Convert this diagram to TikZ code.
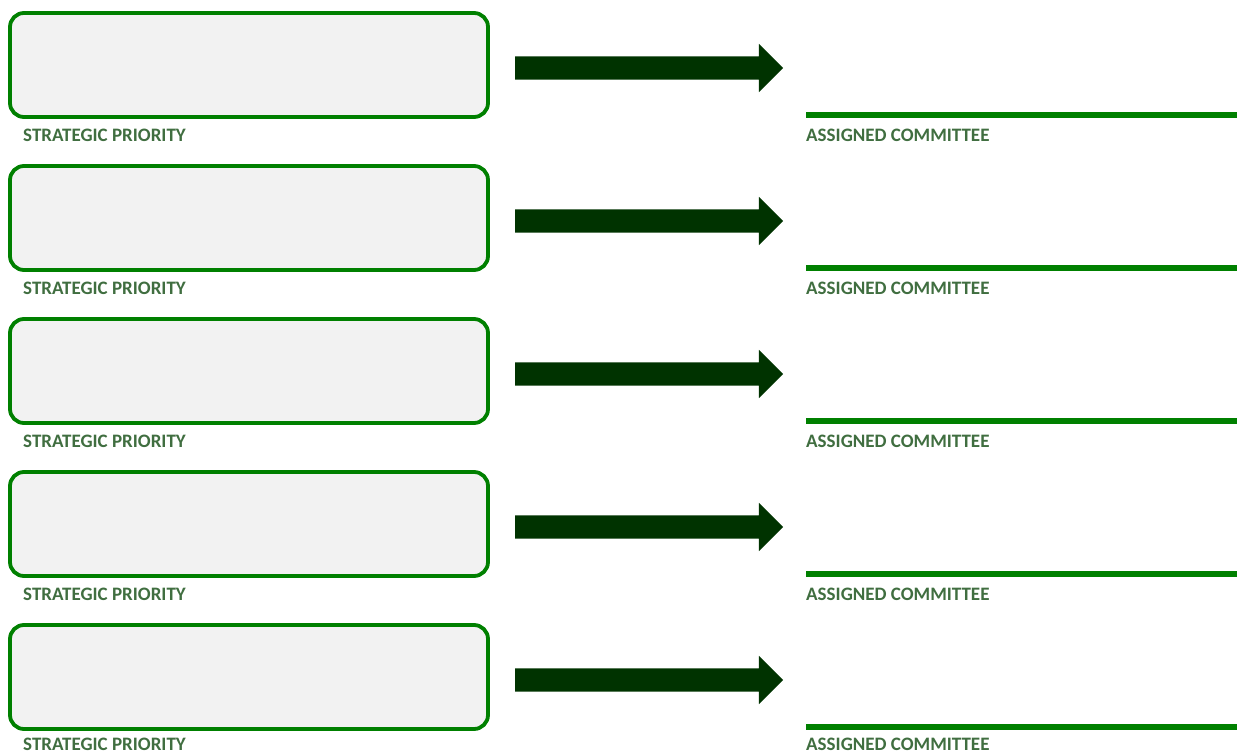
\documentclass[tikz,border=0pt]{standalone}
\usepackage{fontspec}
\setmainfont{Carlito}
\usetikzlibrary{shapes.arrows}
\definecolor{boxgreen}{RGB}{0,128,0}
\definecolor{boxfill}{RGB}{242,242,242}
\definecolor{arrowgreen}{RGB}{0,51,0}
\definecolor{labelgreen}{RGB}{64,110,64}
\tikzset{
  prioritybox/.style={draw=boxgreen, fill=boxfill, line width=3.8pt, rounded corners=14pt,
    minimum width=478pt, minimum height=104pt, inner sep=0pt},
  bigarrow/.style={single arrow, fill=arrowgreen, anchor=west, inner xsep=0pt, inner ysep=11.5pt,
    outer sep=0pt, minimum height=268pt, single arrow head extend=12.5pt, single arrow head indent=0pt},
  rowlabel/.style={anchor=west, inner sep=0pt, text=labelgreen, font=\bfseries\fontsize{19}{22}\selectfont},
  committeeline/.style={draw=boxgreen, line width=6pt}
}
\begin{document}
\begin{tikzpicture}[x=1pt, y=-1pt]
\useasboundingbox (0,0) rectangle (1237,754);
% row 1
\node[prioritybox] (prio1) at (249,65){};
\node[rowlabel] (plab1) at (23,135){STRATEGIC PRIORITY};
\node[bigarrow] (arr1) at (515,68){};
\coordinate (cl1a) at (806,115);
\coordinate (cl1b) at (1237,115);
\draw[committeeline] (cl1a) -- (cl1b);
\node[rowlabel] (clab1) at (806,135){ASSIGNED COMMITTEE};
% row 2
\node[prioritybox] (prio2) at (249,218){};
\node[rowlabel] (plab2) at (23,288){STRATEGIC PRIORITY};
\node[bigarrow] (arr2) at (515,221){};
\coordinate (cl2a) at (806,268);
\coordinate (cl2b) at (1237,268);
\draw[committeeline] (cl2a) -- (cl2b);
\node[rowlabel] (clab2) at (806,288){ASSIGNED COMMITTEE};
% row 3
\node[prioritybox] (prio3) at (249,371){};
\node[rowlabel] (plab3) at (23,441){STRATEGIC PRIORITY};
\node[bigarrow] (arr3) at (515,374){};
\coordinate (cl3a) at (806,421);
\coordinate (cl3b) at (1237,421);
\draw[committeeline] (cl3a) -- (cl3b);
\node[rowlabel] (clab3) at (806,441){ASSIGNED COMMITTEE};
% row 4
\node[prioritybox] (prio4) at (249,524){};
\node[rowlabel] (plab4) at (23,594){STRATEGIC PRIORITY};
\node[bigarrow] (arr4) at (515,527){};
\coordinate (cl4a) at (806,574);
\coordinate (cl4b) at (1237,574);
\draw[committeeline] (cl4a) -- (cl4b);
\node[rowlabel] (clab4) at (806,594){ASSIGNED COMMITTEE};
% row 5
\node[prioritybox] (prio5) at (249,677){};
\node[rowlabel] (plab5) at (23,744){STRATEGIC PRIORITY};
\node[bigarrow] (arr5) at (515,680){};
\coordinate (cl5a) at (806,727);
\coordinate (cl5b) at (1237,727);
\draw[committeeline] (cl5a) -- (cl5b);
\node[rowlabel] (clab5) at (806,744){ASSIGNED COMMITTEE};
\end{tikzpicture}
\end{document}
